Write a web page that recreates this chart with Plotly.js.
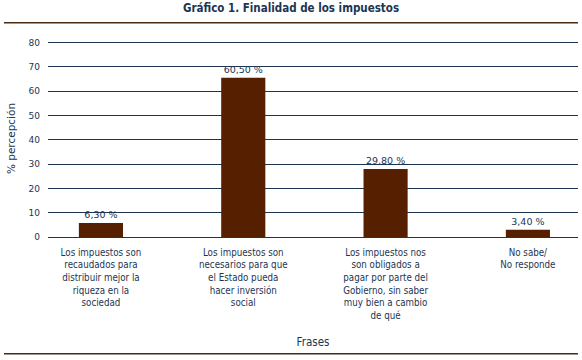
<!DOCTYPE html>
<html><head><meta charset="utf-8">
<script src="https://cdn.plot.ly/plotly-3.0.1.min.js"></script>
<style>html,body{margin:0;padding:0;background:#fff}#chart{width:582px;height:360px}</style>
</head><body><div id="chart"></div>
<script>
var categories = [
  "Los impuestos son<br>recaudados para<br>distribuir mejor la<br>riqueza en la<br>sociedad",
  "Los impuestos son<br>necesarios para que<br>el Estado pueda<br>hacer inversión<br>social",
  "Los impuestos nos<br>son obligados a<br>pagar por parte del<br>Gobierno, sin saber<br>muy bien a cambio<br>de qué",
  "No sabe/<br>No responde"
];
var barHeights = [5.8, 65.5, 28, 3];
var barLabels = ["6,30 %", "60,50 %", "29,80 %", "3,40 %"];
var yTicks = [0, 10, 20, 30, 40, 50, 60, 70, 80];

var navy = "#1c3553";
var brown = "#561f00";
var xIdx = categories.map(function(_, i){ return i; });

var trace = {
  type: "bar",
  x: xIdx,
  y: barHeights,
  text: barLabels,
  textposition: "outside",
  textfont: {family: "DejaVu Sans", size: 9.5, color: navy},
  marker: {color: brown},
  width: 0.31,
  cliponaxis: false,
  hoverinfo: "none"
};

var layout = {
  width: 582, height: 360,
  margin: {l: 48, r: 4, t: 39.5, b: 122.5},
  paper_bgcolor: "#fff", plot_bgcolor: "#fff",
  showlegend: false,
  title: {text: "<b>Gráfico 1. Finalidad de los impuestos</b>", x: 0.5, xanchor: "center", y: 0.978, yanchor: "middle",
          font: {family: "DejaVu Sans Condensed", size: 11.5, color: navy}},
  xaxis: {
    range: [-0.372, 3.352],
    tickvals: xIdx, ticktext: categories,
    showgrid: false, zeroline: false, showline: false, ticks: "",
    ticklabelstandoff: 8,
    tickfont: {family: "DejaVu Sans Condensed", size: 9.7, color: navy},
    tickangle: 0,
    title: {text: "Frases", font: {family: "DejaVu Sans Condensed", size: 11.5, color: navy}, standoff: 18},
    automargin: false
  },
  yaxis: {
    range: [0, 81],
    tickvals: yTicks,
    showgrid: true, gridcolor: navy, gridwidth: 1,
    zeroline: true, zerolinecolor: navy, zerolinewidth: 1,
    showline: false, ticks: "",
    ticklabelstandoff: 7,
    tickfont: {family: "DejaVu Sans", size: 9, color: navy},
    title: {text: "% percepción", font: {family: "DejaVu Sans", size: 10.5, color: navy}, standoff: 10},
    automargin: false
  },
  shapes: [
    {type: "line", xref: "paper", yref: "paper", x0: -0.083, x1: 1.0, y0: 1.088, y1: 1.088, line: {color: "#4a2a10", width: 1.5}},
    {type: "line", xref: "paper", yref: "paper", x0: -0.083, x1: 1.0, y0: -0.593, y1: -0.593, line: {color: "#4a2a10", width: 1.5}}
  ]
};

Plotly.newPlot("chart", [trace], layout, {displayModeBar: false, staticPlot: true});
</script>
</body></html>
